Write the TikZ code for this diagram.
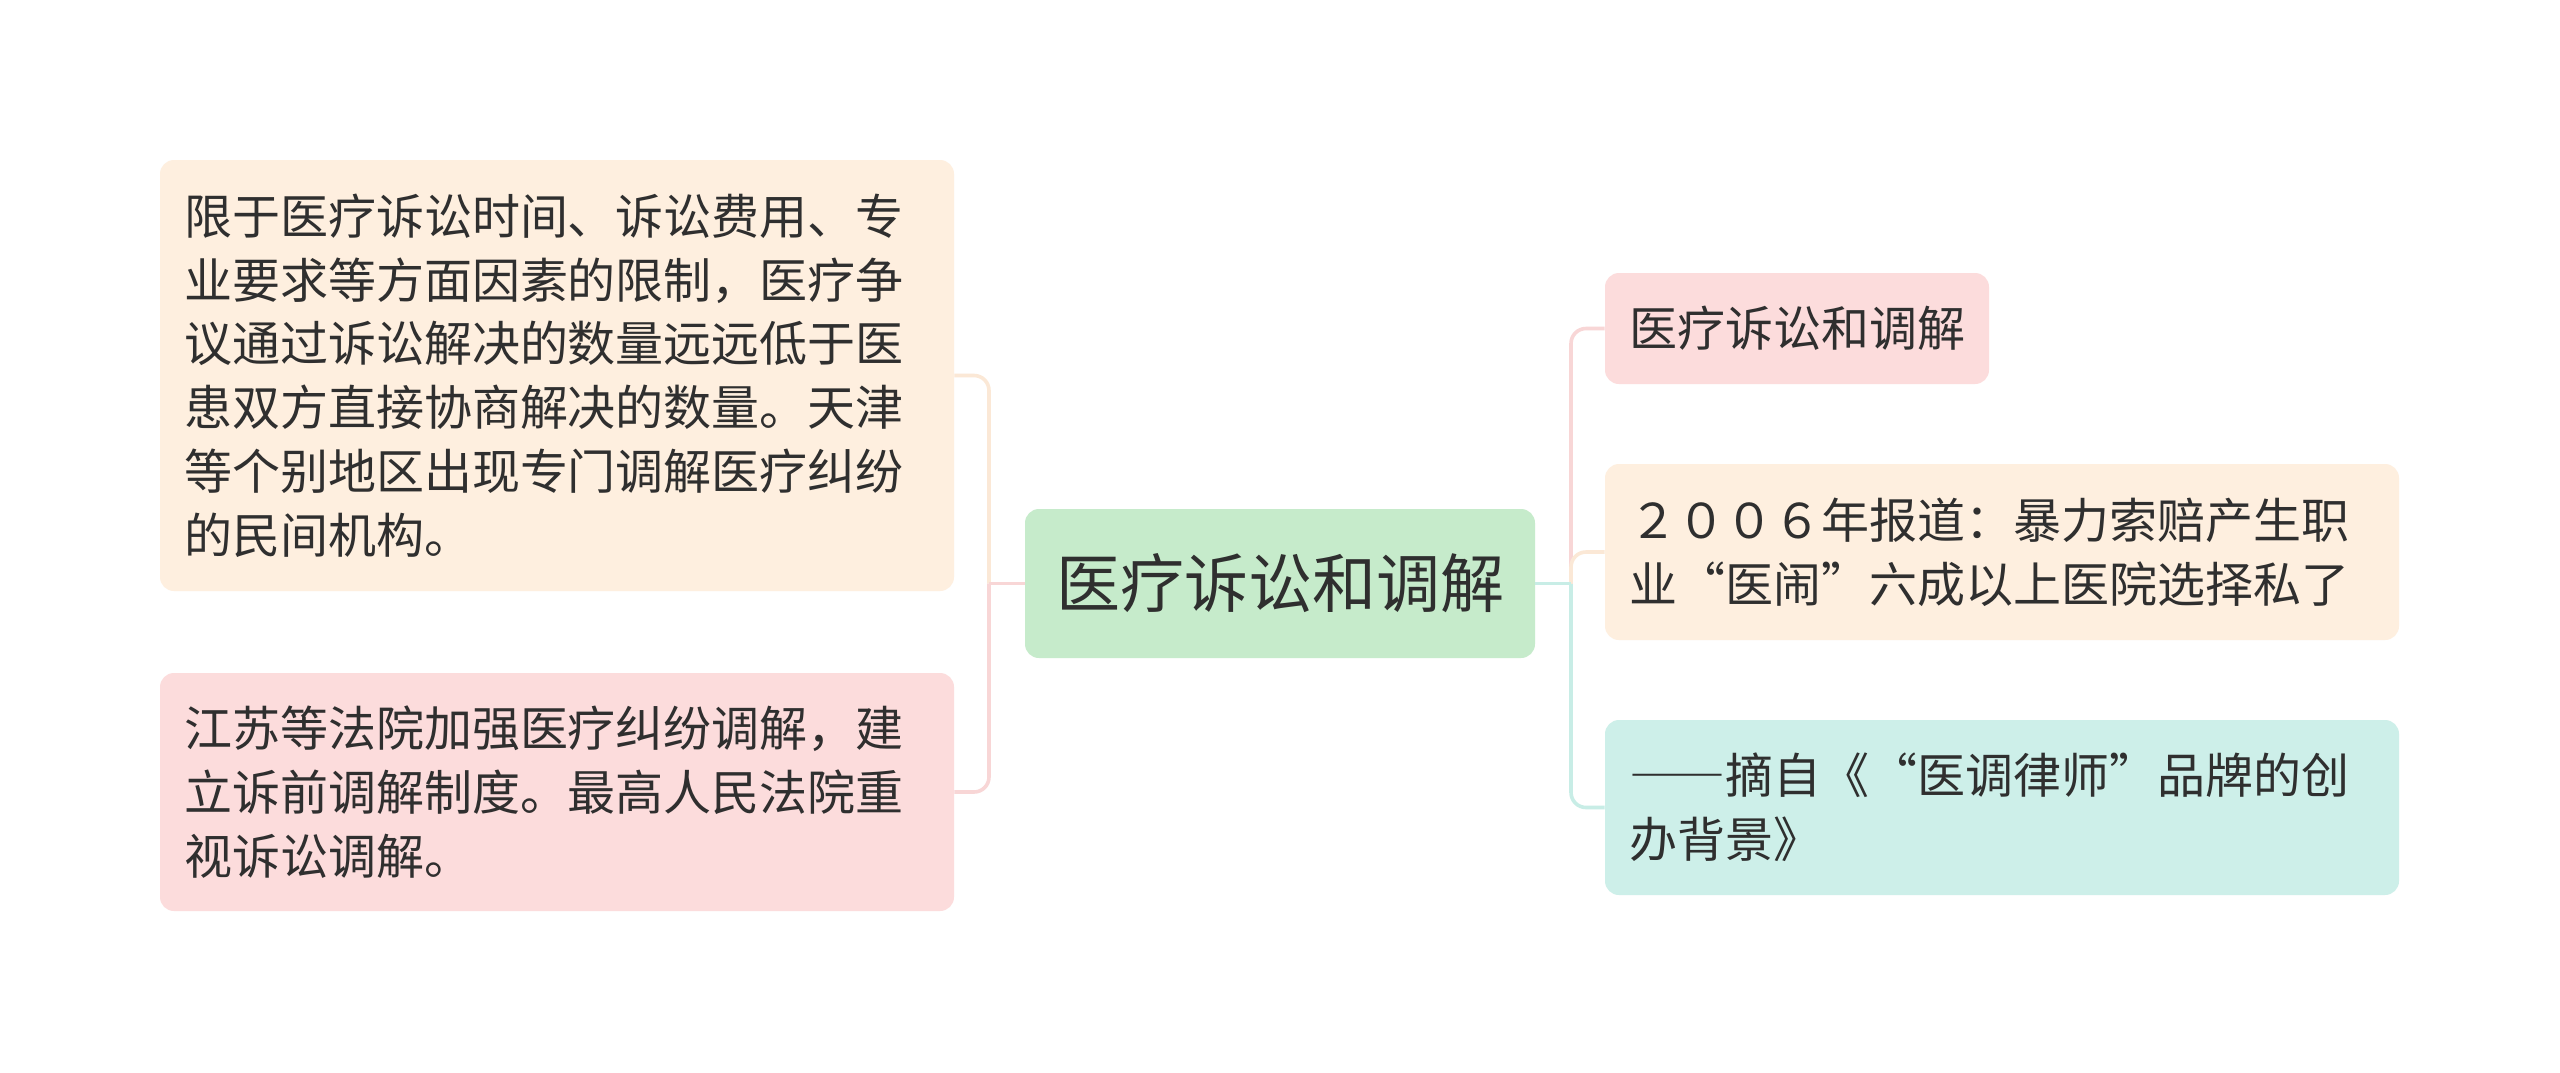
\documentclass[tikz,border=0pt]{standalone}
\usepackage{fontspec}
\setmainfont[RawFeature=+fwid]{Noto Sans CJK SC}
\usepackage{xcolor}
\usetikzlibrary{positioning}
\definecolor{txt}{HTML}{2F2F2F}
\definecolor{hubfill}{HTML}{C6EBCB}
\definecolor{creamfill}{HTML}{FEEFDF}
\definecolor{pinkfill}{HTML}{FCDCDC}
\definecolor{mintfill}{HTML}{CDEFE9}
\definecolor{creamline}{HTML}{FBE8D6}
\definecolor{pinkline}{HTML}{F8D6D6}
\definecolor{mintline}{HTML}{C8EDE6}
\tikzset{
  box/.style={rounded corners=7pt,inner xsep=12pt,inner ysep=0pt,align=left,text=txt,
    font=\fontsize{24}{31.9}\selectfont},
  wide/.style={box,text width=373pt},
  link/.style={line width=1.8pt,rounded corners=7.5pt}
}
\begin{document}
\begin{tikzpicture}[x=0.5pt,y=-0.5pt]
\useasboundingbox[fill=white] (0,0) rectangle (2560,1072);
\node[box,fill=hubfill,align=center,minimum width=255pt,minimum height=74.5pt,
  font=\fontsize{32}{40}\selectfont] (hub) at (1280,583.5) {医疗诉讼和调解};
\node[wide,fill=creamfill,minimum height=215.5pt] (lt) at (557,375.5)
  {限于医疗诉讼时间、诉讼费用、专\\业要求等方面因素的限制，医疗争\\议通过诉讼解决的数量远远低于医\\患双方直接协商解决的数量。天津\\等个别地区出现专门调解医疗纠纷\\的民间机构。};
\node[wide,fill=pinkfill,minimum height=119pt] (lb) at (557,792)
  {江苏等法院加强医疗纠纷调解，建\\立诉前调解制度。最高人民法院重\\视诉讼调解。};
\node[box,text width=168pt,fill=pinkfill,minimum height=55.5pt] (r1) at (1797,328.5) {医疗诉讼和调解};
\node[wide,fill=creamfill,minimum height=88pt] (r2) at (2002,552)
  {２００６年报道：暴力索赔产生职\\业“医闹”六成以上医院选择私了};
\node[wide,fill=mintfill,minimum height=87.5pt] (r3) at (2002,807.5)
  {——摘自《“医调律师”品牌的创\\办背景》};
\coordinate (jl) at (989,583.5);
\coordinate (jr) at (1571,583.5);
\draw[link,creamline] (jl) |- (lt.east);
\draw[link,pinkline] (jl) |- (lb.east);
\draw[link,pinkline] (hub.west) -- (jl);
\draw[link,pinkline] (jr) |- (r1.west);
\draw[link,mintline] (jr) |- (r3.west);
\draw[link,creamline] (jr) |- (r2.west);
\draw[link,mintline] (hub.east) -- (jr);
\end{tikzpicture}
\end{document}
